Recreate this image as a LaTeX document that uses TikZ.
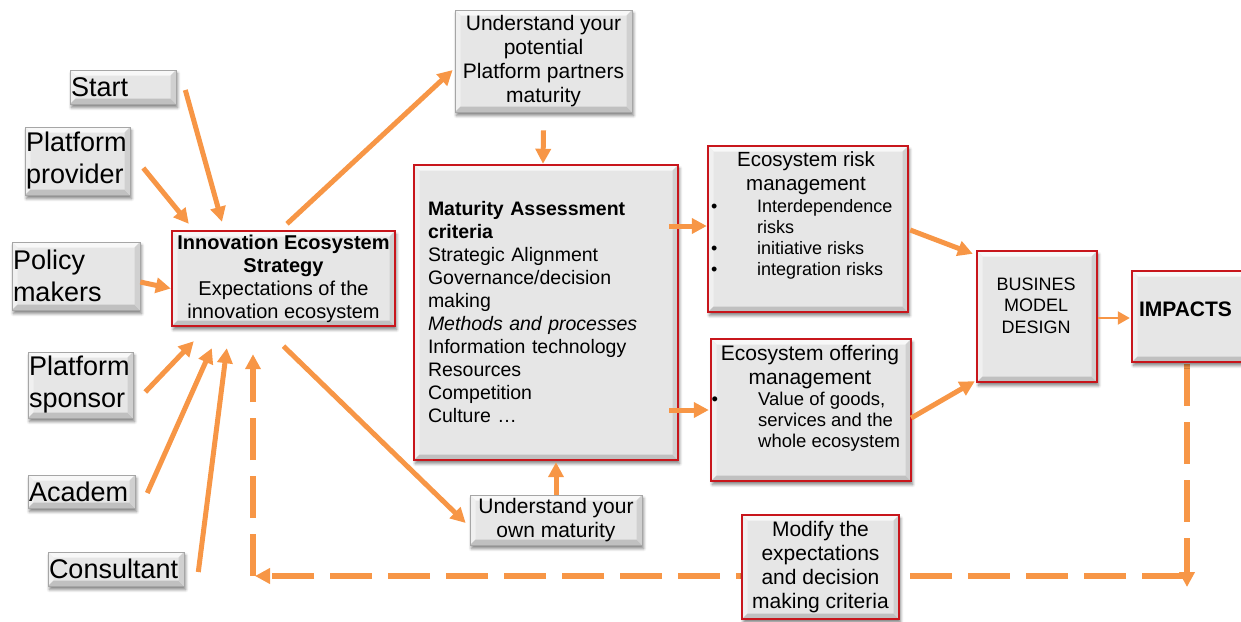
\documentclass[tikz,border=0pt]{standalone}
\usepackage{fontspec}
\setmainfont{Liberation Sans}
\usetikzlibrary{arrows.meta,shadows.blur}

\definecolor{flowor}{RGB}{247,150,70}
\definecolor{framered}{RGB}{200,22,28}
\definecolor{face}{RGB}{230,230,230}
\definecolor{bevtop}{RGB}{248,248,248}
\definecolor{bevleft}{RGB}{240,240,240}
\definecolor{bevbot}{RGB}{192,192,192}
\definecolor{bevright}{RGB}{208,208,208}

\newcommand\fsz[2]{\fontsize{#1}{#2}\selectfont}

\pgfdeclarelayer{behind}
\pgfsetlayers{behind,main}

\tikzset{
  panel/.style={shape=rectangle, inner sep=0pt, fill=face, draw=black!35, line width=0.6pt,
    blur shadow={shadow xshift=1.5pt, shadow yshift=-3.5pt, shadow blur radius=3pt,
                 shadow blur steps=6, shadow opacity=50},
    path picture={
      \fill[bevtop] (path picture bounding box.north west) -- (path picture bounding box.north east)
        -- ([xshift=-5.5pt,yshift=-5.5pt]path picture bounding box.north east)
        -- ([xshift=5.5pt,yshift=-5.5pt]path picture bounding box.north west) -- cycle;
      \fill[bevleft] (path picture bounding box.north west) -- (path picture bounding box.south west)
        -- ([xshift=5.5pt,yshift=5.5pt]path picture bounding box.south west)
        -- ([xshift=5.5pt,yshift=-5.5pt]path picture bounding box.north west) -- cycle;
      \fill[bevbot] (path picture bounding box.south west) -- (path picture bounding box.south east)
        -- ([xshift=-5.5pt,yshift=5.5pt]path picture bounding box.south east)
        -- ([xshift=5.5pt,yshift=5.5pt]path picture bounding box.south west) -- cycle;
      \fill[bevright] (path picture bounding box.north east) -- (path picture bounding box.south east)
        -- ([xshift=-5.5pt,yshift=5.5pt]path picture bounding box.south east)
        -- ([xshift=-5.5pt,yshift=-5.5pt]path picture bounding box.north east) -- cycle;
    }},
  redpanel/.style={panel, draw=framered, line width=2.4pt},
  side/.style={panel, text width=#1, align=left, inner xsep=1pt, font=\fsz{27}{32}},
  label/.style={inner sep=0pt},
  flow/.style={draw=flowor, line width=5pt, -{Triangle[length=15pt,width=15pt]}},
  thinflow/.style={draw=flowor, line width=2.2pt, -{Triangle[length=12pt,width=13pt]}},
  back/.style={flow, line width=5.5pt, dash pattern=on 42pt off 16pt},
}

\begin{document}
\begin{tikzpicture}[x=1pt, y=-1pt]
\useasboundingbox (0,0) rectangle (1241,621);

% stakeholders on the left
\node[side=104pt, minimum height=34pt] (start) at (123,87) {Start};
\node[side=103pt, minimum height=68pt] (provider) at (77.5,161) {Platform\\provider};
\node[side=126pt, minimum height=68pt] (policy) at (76,276) {Policy\\makers};
\node[side=103pt, minimum height=66pt] (sponsor) at (80.5,385) {Platform\\sponsor};
\node[side=105pt, minimum height=33pt] (academ) at (81.5,491.5) {Academ};
\node[side=134pt, minimum height=34pt] (consultant) at (116,569) {Consultant};

% strategy
\node[redpanel, minimum width=223pt, minimum height=95pt, align=center, font=\fsz{20}{23}]
  (ies) at (283.5,278.5)
  {\textbf{Innovation Ecosystem}\\\textbf{Strategy}\\Expectations of the\\innovation ecosystem};

% maturity understanding
\node[panel, minimum width=177pt, minimum height=102pt, align=center, font=\fsz{21}{24}]
  (potential) at (543.5,61)
  {Understand your\\potential\\Platform partners\\maturity};
\node[panel, minimum width=172pt, minimum height=50pt, align=center, font=\fsz{21}{24}]
  (own) at (556,520) {Understand your\\own maturity};

% assessment criteria
\node[redpanel, minimum width=264pt, minimum height=295pt, text width=236pt, align=left,
  font=\fsz{19.5}{23}] (maturity) at (546,312.5)
  {\textbf{Maturity Assessment}\\\textbf{criteria}\\Strategic Alignment\\Governance/decision\\making\\
   \textit{Methods and processes}\\Information technology\\Resources\\Competition\\Culture …};

% risk management
\node[redpanel, minimum width=200pt, minimum height=166pt] (risk) at (808,229) {};
\node[label, anchor=north, align=center, font=\fsz{20.5}{24}] (riskT) at (806,149)
  {\strut Ecosystem risk\\management};
\node[label, anchor=north west, align=left, font=\fsz{18}{21}] (riskL) at (757,198)
  {\strut\llap{•\hspace{39.7pt}}Interdependence\\risks\\
   \llap{•\hspace{39.7pt}}initiative risks\\\llap{•\hspace{39.7pt}}integration risks};

% offering management
\node[redpanel, minimum width=200pt, minimum height=142pt] (offering) at (811,410) {};
\node[label, anchor=north, align=center, font=\fsz{21}{24}] (offT) at (810,343)
  {\strut Ecosystem offering\\management};
\node[label, anchor=north west, align=left, font=\fsz{18.5}{21}] (offL) at (758,391)
  {\strut\llap{•\hspace{40pt}}Value of goods,\\services and the\\whole ecosystem};

% business model and impacts
\node[redpanel, minimum width=120pt, minimum height=131pt] (bmd) at (1037,316.5) {};
\node[label, anchor=north, align=center, font=\fsz{18}{21.5}] (bmdT) at (1036,275)
  {\strut BUSINES\\MODEL\\DESIGN};
\node[redpanel, minimum width=118pt, minimum height=91pt] (impacts) at (1191,316.5) {};
\node[label, font=\fsz{21}{24}\bfseries] (impT) at (1185.5,309) {IMPACTS};

% feedback
\node[redpanel, minimum width=157pt, minimum height=104pt, align=center, font=\fsz{21}{24}]
  (modify) at (820.5,567) {Modify the\\expectations\\and decision\\making criteria};

\coordinate (dropEnd) at (1187,587);
\coordinate (loopR) at (1184,576);
\coordinate (loopL) at (253,576);

\begin{pgfonlayer}{behind}
  \draw[back] ([xshift=-4pt,yshift=-1pt]impacts.south) -- (dropEnd);
  \draw[back] (loopR) -- ([shift={(2,0)}]loopL);
  \draw[back] (loopL) -- ([shift={(-30.5,27)}]ies.south);
\end{pgfonlayer}

% inputs to the strategy
\draw[flow] ([shift={(9,3)}]start.east) -- ([shift={(-61.5,-8)}]ies.north);
\draw[flow] ([shift={(13,7)}]provider.east) -- ([shift={(18,-6)}]ies.north west);
\draw[flow] ([shift={(0,6)}]policy.east) -- ([shift={(0,10)}]ies.west);
\draw[flow] ([shift={(12,7)}]sponsor.east) -- ([shift={(23,14)}]ies.south west);
\draw[flow] ([shift={(12,1.5)}]academ.east) -- ([shift={(41,21)}]ies.south west);
\draw[flow] ([shift={(14,3)}]consultant.east) -- ([shift={(56,21)}]ies.south west);

% strategy to maturity
\draw[flow] ([shift={(3.5,-6)}]ies.north) -- ([shift={(-2,9)}]potential.west);
\draw[flow] ([shift={(0,18)}]potential.south) -- ([shift={(-3,0)}]maturity.north);
\draw[flow] ([shift={(0,19)}]ies.south) -- ([shift={(-4,3)}]own.west);
\draw[flow] (own.north) -- ([shift={(10,1)}]maturity.south);

% criteria to management and design
\draw[flow] ([shift={(-10,-86.5)}]maturity.east) -- ([shift={(0,-3)}]risk.west);
\draw[flow] ([shift={(-10,97.5)}]maturity.east) -- ([shift={(-1,0)}]offering.west);
\draw[flow] ([shift={(1,1)}]risk.east) -- ([shift={(-3,4)}]bmd.north west);
\draw[flow] ([shift={(-1,8)}]offering.east) -- ([shift={(-1,-2)}]bmd.south west);
\draw[thinflow] ([shift={(0,1.5)}]bmd.east) -- ([shift={(-1,1.5)}]impacts.west);
\end{tikzpicture}
\end{document}
